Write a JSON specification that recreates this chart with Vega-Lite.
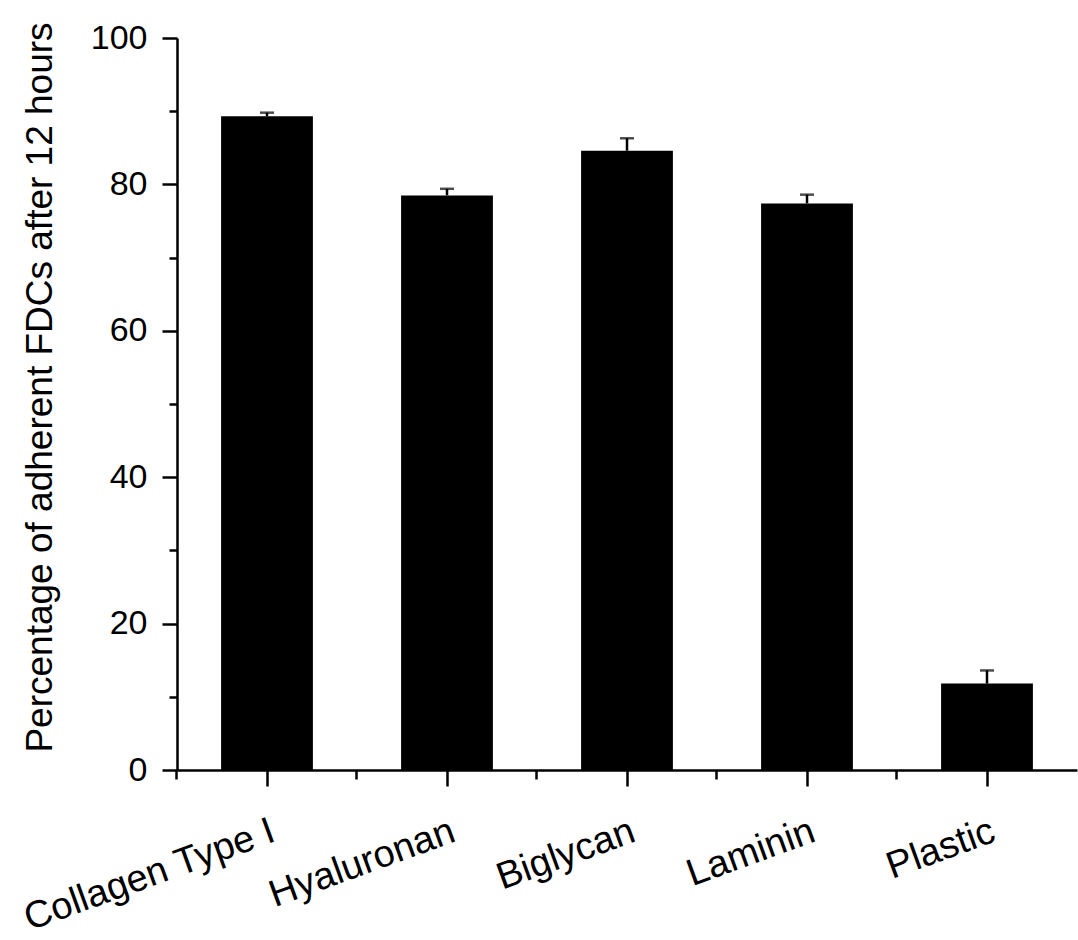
{
  "$schema": "https://vega.github.io/schema/vega-lite/v6.json",
  "autosize": "none",
  "width": 900,
  "height": 732,
  "padding": {"left": 177, "top": 38, "right": 1, "bottom": 170},
  "background": "white",
  "config": {
    "view": {"stroke": null},
    "font": "Liberation Sans",
    "axis": {
      "domainColor": "black",
      "domainWidth": 2.5,
      "tickColor": "black",
      "tickWidth": 2.5,
      "labelColor": "black",
      "titleColor": "black",
      "grid": false,
      "labelFont": "Liberation Sans",
      "titleFont": "Liberation Sans"
    }
  },
  "data": {
    "values": [
      {"category": "Collagen Type I", "value": 89.3, "upper": 89.8},
      {"category": "Hyaluronan", "value": 78.5, "upper": 79.4},
      {"category": "Biglycan", "value": 84.6, "upper": 86.3},
      {"category": "Laminin", "value": 77.4, "upper": 78.6},
      {"category": "Plastic", "value": 11.8, "upper": 13.6}
    ]
  },
  "layer": [
    {
      "mark": {"type": "bar", "color": "black"},
      "encoding": {
        "x": {
          "field": "category",
          "type": "nominal",
          "sort": null,
          "scale": {"paddingInner": 0.49, "paddingOuter": 0.245},
          "axis": {
            "title": null,
            "orient": "bottom",
            "tickSize": 16,
            "labelAngle": -20,
            "labelAlign": "right",
            "labelBaseline": "top",
            "labelFontSize": 38,
            "labelPadding": 26,
            "labelLimit": 500,
            "labelOverlap": false,
            "labelFlush": false
          }
        },
        "y": {
          "field": "value",
          "type": "quantitative",
          "scale": {"domain": [0, 100], "nice": false},
          "axis": {
            "title": "Percentage of adherent FDCs after 12 hours",
            "values": [0, 10, 20, 30, 40, 50, 60, 70, 80, 90, 100],
            "tickSize": {"condition": {"test": "datum.value % 20 === 0", "value": 15}, "value": 8},
            "labelExpr": "datum.value % 20 === 0 ? datum.label : ''",
            "labelFontSize": 34,
            "labelPadding": 15,
            "titleFontSize": 37,
            "titleFontWeight": "normal",
            "titleAngle": -90,
            "titleAlign": "center",
            "titleBaseline": "alphabetic",
            "titleX": -126,
            "titleY": 349
          }
        }
      }
    },
    {
      "encoding": {
        "x": {
          "field": "category",
          "type": "nominal",
          "sort": null,
          "axis": {
            "orient": "bottom",
            "title": null,
            "labels": false,
            "domain": false,
            "bandPosition": -0.4804,
            "tickSize": 9
          }
        }
      },
      "layer": [
        {
          "mark": {"type": "rule", "color": "black", "strokeWidth": 2.5},
          "encoding": {
            "y": {"field": "value", "type": "quantitative"},
            "y2": {"field": "upper"}
          }
        },
        {
          "mark": {"type": "tick", "color": "black", "thickness": 2.5, "size": 14},
          "encoding": {
            "y": {"field": "upper", "type": "quantitative"}
          }
        }
      ]
    }
  ],
  "resolve": {"axis": {"x": "independent"}}
}
